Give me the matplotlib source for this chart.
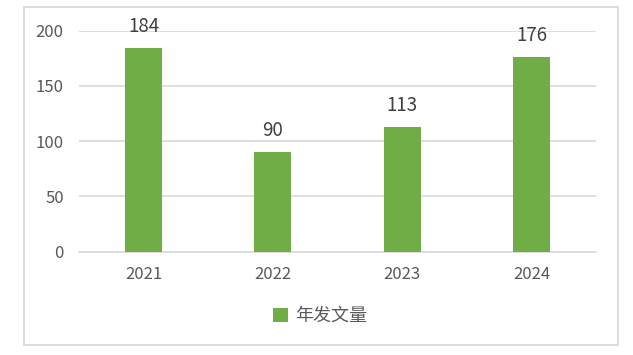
import matplotlib
matplotlib.use("Agg")
import matplotlib.pyplot as plt
from matplotlib.patches import Rectangle

plt.rcParams['font.family'] = ['Noto Sans CJK SC', 'DejaVu Sans']
plt.rcParams['font.weight'] = 'light'

years = ["2021", "2022", "2023", "2024"]
counts = [184, 90, 113, 176]
series_name = "年发文量"
y_ticks = [0, 50, 100, 150, 200]

W, H = 633, 355
fig = plt.figure(figsize=(W / 100, H / 100), dpi=100)

# outer chart frame
fig.patches.append(Rectangle((24 / W, 1 - 345 / H), (618 - 24) / W, (345 - 7) / H,
                             transform=fig.transFigure, fill=False,
                             edgecolor="#D9D9D9", linewidth=1.3))

ax = fig.add_axes([79 / W, 1 - 251.7 / H, (596 - 79) / W, (251.7 - 30.5) / H])
x = range(len(years))
bars = ax.bar(x, counts, width=0.286, color="#70AD47", zorder=3)
ax.set_xlim(-0.5, len(years) - 0.5)
ax.set_ylim(0, 200)
ax.set_yticks(y_ticks)
ax.set_xticks(list(x))
ax.set_xticklabels(years)

ax.grid(axis="y", color="#D9D9D9", linewidth=1.2, zorder=0)
for s in ["top", "right", "left"]:
    ax.spines[s].set_visible(False)
ax.spines["bottom"].set_color("#D9D9D9")
ax.spines["bottom"].set_linewidth(1.2)
ax.tick_params(axis="both", length=0, labelsize=12, colors="#595959")
ax.tick_params(axis="y", pad=11)
ax.tick_params(axis="x", pad=10)

for b, v in zip(bars, counts):
    ax.annotate(str(v), (b.get_x() + b.get_width() / 2, v), xytext=(0, 8),
                textcoords="offset points", ha="center", va="bottom",
                fontsize=13.5, color="#404040", clip_on=False)

fig.legend([bars], [series_name], loc="center", bbox_to_anchor=(320 / W, 1 - 316 / H),
           frameon=False, fontsize=13, handlelength=0.8, handleheight=0.8,
           handletextpad=0.4, labelcolor="#595959")

fig.savefig("out.png", dpi=100)
